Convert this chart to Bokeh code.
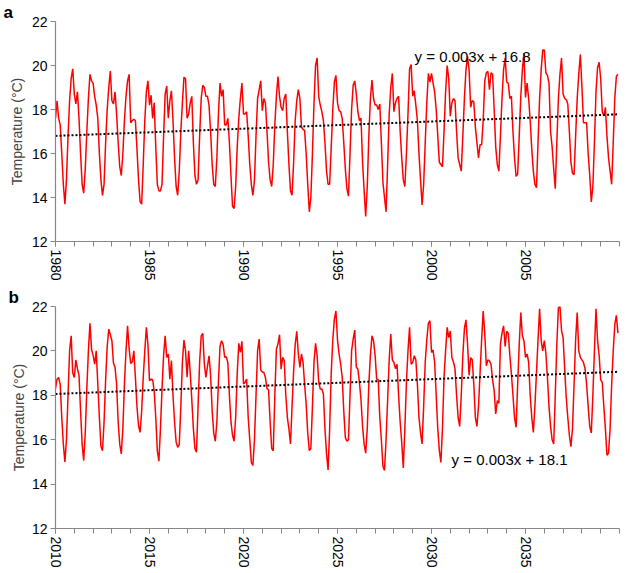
from bokeh.plotting import figure
from bokeh.layouts import column
from bokeh.models import FixedTicker, Label, Range1d
from bokeh.embed import file_html
from bokeh.resources import INLINE

# ---------------- data (monthly mean temperature, degC) ----------------
temp_a_1980s = [
    17.6, 18.4, 17.6, 17.3, 16.0, 14.6, 13.7, 14.8, 16.8, 18.4, 19.4, 19.85,   # 1980
    18.7, 18.25, 18.8, 17.6, 16.0, 14.6, 14.2, 15.3, 17.0, 18.5, 19.6, 19.3,   # 1981
    19.2, 18.6, 18.2, 17.6, 16.0, 14.8, 14.1, 14.6, 16.5, 18.0, 19.0, 19.75,   # 1982
    18.4, 18.25, 18.8, 17.8, 16.5, 15.4, 15.0, 16.0, 17.5, 18.6, 19.3, 19.6,   # 1983
    17.4, 17.5, 17.55, 17.5, 16.2, 14.8, 13.8, 13.7, 15.5, 17.5, 18.8, 19.3,  # 1984
    18.2, 18.65, 17.6, 18.3, 16.3, 14.6, 14.3, 14.3, 14.6, 16.8, 18.7, 19.07, # 1985
    17.6, 18.4, 18.85, 17.5, 15.8, 14.5, 14.1, 15.2, 17.0, 18.3, 19.47, 19.4, # 1986
    17.6, 17.8, 18.3, 18.6, 16.5, 15.0, 14.6, 14.8, 16.8, 18.5, 19.1, 19.0,   # 1987
    18.6, 18.6, 18.2, 17.0, 15.5, 14.6, 14.5, 15.8, 17.8, 19.2, 18.6, 18.9,   # 1988
    17.3, 17.3, 17.6, 16.5, 15.0, 13.6, 13.5, 14.5, 16.3, 17.6, 18.5, 19.2,   # 1989
]
temp_a_1990s = [
    17.8, 17.8, 17.9, 16.8, 15.5, 14.6, 14.1, 14.8, 16.8, 18.5, 18.9, 19.3,   # 1990
    17.95, 18.5, 18.3, 17.0, 15.6, 14.8, 14.5, 15.5, 17.3, 18.6, 19.5, 18.6,  # 1991
    18.1, 17.95, 18.5, 18.7, 17.0, 15.5, 14.3, 14.1, 15.6, 17.5, 18.4, 18.9,  # 1992
    18.5, 17.2, 17.1, 17.05, 16.0, 14.6, 13.35, 14.0, 16.0, 18.3, 20.0, 20.35,# 1993
    18.6, 18.2, 17.9, 17.5, 16.5, 15.2, 14.6, 14.6, 16.3, 18.0, 19.25, 19.55, # 1994
    18.3, 17.95, 17.9, 17.6, 16.5, 15.3, 14.4, 14.06, 16.0, 18.0, 19.1, 19.3, # 1995
    18.7, 17.9, 17.5, 17.6, 15.6, 14.3, 13.14, 14.5, 16.8, 18.5, 19.34, 18.5, # 1996
    18.2, 18.2, 18.0, 18.25, 16.5, 14.7, 14.0, 13.35, 15.5, 17.8, 19.0, 19.64,# 1997
    17.9, 18.3, 18.5, 18.6, 17.0, 15.8, 14.8, 14.5, 16.0, 17.8, 19.85, 20.04, # 1998
    18.6, 18.85, 18.2, 17.5, 16.0, 14.8, 13.66, 14.6, 16.5, 18.3, 19.64, 19.25,# 1999
]
temp_a_2000s = [
    19.64, 19.2, 18.8, 18.0, 16.8, 15.6, 15.5, 15.4, 17.0, 18.8, 20.0, 19.4,  # 2000
    17.7, 18.3, 18.5, 18.4, 17.0, 15.8, 15.5, 15.2, 16.8, 18.5, 19.8, 20.4,   # 2001
    19.8, 18.1, 18.4, 18.35, 17.2, 16.5, 15.8, 16.4, 16.4, 17.5, 19.3, 19.67, # 2002
    19.74, 18.9, 19.67, 19.6, 18.0, 16.3, 15.5, 15.2, 16.8, 18.5, 19.8, 20.34,# 2003
    19.25, 19.2, 18.5, 18.6, 17.0, 15.8, 14.96, 15.06, 16.8, 18.6, 19.8, 20.56,# 2004
    18.55, 19.2, 18.5, 17.5, 16.2, 15.2, 14.6, 14.44, 16.5, 18.5, 19.8, 20.7, # 2005
    20.7, 19.67, 19.55, 19.2, 17.0, 16.3, 15.3, 14.4, 16.5, 18.5, 19.6, 20.34,# 2006
    18.7, 18.5, 18.45, 18.25, 17.0, 15.6, 15.1, 15.03, 16.8, 18.5, 19.6, 20.5,# 2007
    19.07, 17.4, 17.4, 17.4, 16.0, 15.0, 13.8, 14.5, 16.5, 18.8, 19.9, 20.15, # 2008
    19.4, 17.9, 17.7, 18.1, 16.8, 15.8, 15.2, 14.6, 16.5, 18.5, 19.5, 19.6,   # 2009
]
temp_b_2010s = [
    18.3, 18.73, 18.8, 18.5, 17.0, 15.8, 15.0, 16.0, 18.0, 20.0, 20.68, 19.0, # 2010
    18.8, 19.59, 19.2, 18.9, 17.3, 15.8, 15.06, 16.3, 18.3, 20.0, 21.24, 20.08,# 2011
    19.8, 19.4, 20.0, 18.5, 17.0, 15.7, 15.5, 16.8, 18.7, 20.2, 20.98, 20.73, # 2012
    20.46, 19.45, 19.25, 18.5, 16.8, 15.8, 15.36, 16.5, 18.5, 20.0, 21.13, 20.1,# 2013
    19.44, 19.5, 20.0, 18.8, 17.5, 16.63, 16.33, 17.3, 18.8, 20.0, 21.06, 20.3,# 2014
    18.66, 18.73, 18.7, 18.2, 17.0, 15.5, 15.03, 16.5, 18.3, 19.8, 20.68, 19.71,# 2015
    19.86, 18.73, 19.56, 18.0, 16.8, 15.9, 15.66, 15.78, 17.5, 19.5, 20.49, 20.0,# 2016
    18.81, 20.0, 19.0, 17.8, 16.5, 15.6, 15.44, 17.5, 19.5, 20.68, 20.79, 19.41,# 2017
    18.81, 19.3, 19.78, 18.9, 17.3, 16.3, 15.93, 16.8, 18.6, 20.2, 20.46, 20.3,# 2018
    19.71, 19.74, 19.48, 18.0, 16.8, 16.2, 15.93, 17.0, 19.0, 20.34, 19.93, 20.43,# 2019
]
temp_b_2020s = [
    18.51, 18.58, 18.73, 17.0, 16.0, 14.98, 14.84, 16.0, 18.0, 20.0, 20.53, 19.14,# 2020
    19.05, 19.03, 18.8, 18.3, 18.25, 16.8, 15.6, 15.5, 18.0, 20.08, 20.31, 20.73,# 2021
    19.18, 19.71, 19.56, 18.0, 17.01, 16.48, 15.81, 17.5, 19.1, 20.3, 20.88, 19.86,# 2022
    19.26, 19.86, 19.5, 18.5, 17.61, 16.3, 15.51, 15.6, 17.5, 19.5, 20.34, 19.78,# 2023
    18.6, 18.28, 18.28, 18.06, 16.5, 15.36, 14.64, 16.5, 19.0, 20.5, 21.43, 21.8,# 2024
    20.5, 19.86, 19.41, 18.81, 17.3, 16.1, 15.93, 16.0, 18.0, 20.0, 20.53, 20.94,# 2025
    19.26, 19.18, 18.58, 17.8, 16.6, 15.8, 15.39, 16.5, 18.5, 19.8, 20.68, 20.46,# 2026
    19.8, 18.73, 18.7, 17.0, 16.0, 14.8, 14.61, 16.0, 17.8, 19.6, 20.76, 19.59,# 2027
    19.48, 19.2, 19.4, 18.0, 16.8, 15.88, 14.73, 16.5, 18.6, 20.0, 21.06, 19.4,# 2028
    19.48, 19.78, 19.6, 18.5, 17.0, 16.3, 15.81, 17.5, 19.5, 20.5, 21.24, 21.36,# 2029
]
temp_b_2030s = [
    19.93, 20.04, 19.5, 18.0, 16.5, 15.51, 14.98, 16.5, 18.81, 20.0, 21.06, 20.6,# 2030
    20.9, 19.7, 19.5, 19.2, 18.0, 17.0, 16.6, 18.0, 19.8, 21.0, 21.4, 20.3,   # 2031
    18.9, 19.7, 19.6, 18.5, 17.0, 16.6, 17.5, 19.0, 20.5, 21.8, 20.76, 19.33, # 2032
    19.59, 19.55, 19.4, 18.7, 18.21, 17.16, 17.76, 17.64, 20.31, 20.8, 21.13, 20.2,# 2033
    20.88, 20.8, 19.8, 18.96, 18.0, 17.0, 16.56, 18.5, 20.3, 21.73, 20.68, 20.46,# 2034
    19.71, 19.86, 19.5, 18.0, 17.0, 16.33, 17.5, 19.0, 20.5, 21.9, 20.46, 20.0,# 2035
    20.46, 19.9, 18.8, 17.5, 16.6, 16.0, 15.81, 18.0, 20.3, 21.95, 22.0, 20.91,# 2036
    20.6, 19.2, 17.91, 17.0, 16.2, 15.69, 16.5, 18.5, 20.5, 21.73, 20.01, 19.71,# 2037
    19.6, 19.48, 19.2, 18.5, 17.5, 16.6, 16.3, 18.0, 20.0, 21.9, 20.46, 19.8, # 2038
    18.7, 18.58, 17.5, 16.5, 15.3, 15.4, 16.5, 18.5, 20.0, 21.2, 21.6, 20.8,  # 2039
]

start_a, start_b = 1980, 2010
trend_a = [16.8, 17.78]        # fitted trend line, start / end values
trend_b = [18.06, 19.06]
eq_a = "y = 0.003x + 16.8"
eq_b = "y = 0.003x + 18.1"
yticks = [12, 14, 16, 18, 20, 22]

FONT = "Liberation Sans"
AX = "#868686"


def make_panel(values, start, trend, eq, eq_pos, letter, letter_offset, w, h,
               bl, br, bt, bb, label_standoff):
    n = len(values)
    xs = [start + i / 12 for i in range(n)]
    p = figure(width=w, height=h, x_range=Range1d(start, start + 30),
               y_range=Range1d(12, 22), output_backend="svg",
               toolbar_location=None, min_border_left=bl, min_border_right=br,
               min_border_top=bt, min_border_bottom=bb, title=letter)
    p.title.align = "left"
    p.title.offset = letter_offset
    p.title.standoff = 0
    p.title.text_font = FONT
    p.title.text_font_size = "17px"
    p.title.text_font_style = "bold"
    p.title.text_color = "black"
    p.outline_line_color = None
    p.xgrid.visible = False
    p.ygrid.visible = False
    p.background_fill_color = "white"
    p.border_fill_color = "white"

    p.line(xs, values, line_color="#FF0000", line_width=1.5)
    p.line([xs[0], xs[-1]], trend, line_color="black", line_width=2,
           line_dash="2 2")

    xa = p.xaxis[0]
    xa.ticker = FixedTicker(ticks=list(range(start, start + 30, 5)),
                            minor_ticks=list(range(start, start + 31)))
    xa.major_label_orientation = "vertical"
    ya = p.yaxis[0]
    ya.ticker = FixedTicker(ticks=yticks, minor_ticks=[])
    ya.axis_label = "Temperature (\u00b0C)"
    ya.axis_label_text_font = FONT
    ya.axis_label_text_font_size = "14px"
    ya.axis_label_text_font_style = "normal"
    ya.axis_label_standoff = label_standoff
    for ax in (xa, ya):
        ax.axis_line_color = AX
        ax.axis_line_width = 1.2
        ax.major_tick_line_color = AX
        ax.minor_tick_line_color = AX
        ax.major_tick_in = 0
        ax.major_tick_out = 5
        ax.minor_tick_in = 0
        ax.minor_tick_out = 5
        ax.major_label_text_font = FONT
        ax.major_label_text_font_size = "14px"
        ax.major_label_text_color = "black"
        ax.major_label_standoff = 3

    p.add_layout(Label(x=eq_pos[0], y=eq_pos[1], text=eq, text_font=FONT,
                       text_font_size="15px", text_color="black",
                       text_baseline="alphabetic", text_align="left"))
    return p


temp_a = temp_a_1980s + temp_a_1990s + temp_a_2000s
temp_b = temp_b_2010s + temp_b_2020s + temp_b_2030s

pa = make_panel(temp_a, start_a, trend_a, eq_a, (1999.1, 20.39), "a",
                -52, 638, 285, 55, 3, 18, 44, 4)
pb = make_panel(temp_b, start_b, trend_b, eq_b, (2031.07, 15.1), "b",
                -47, 638, 288, 52, 19, 21, 45, 2)

layout = column(pa, pb, spacing=0)
open("out.html", "w").write(file_html(layout, INLINE))
